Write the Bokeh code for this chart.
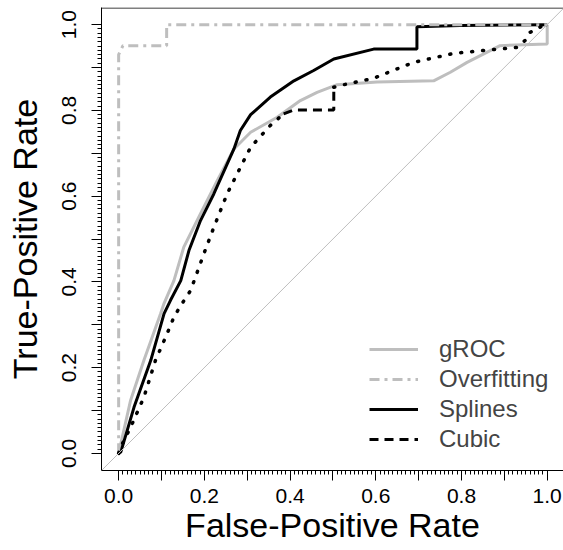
from bokeh.plotting import figure
from bokeh.models import FixedTicker, Legend, LegendItem, Slope, Span
from bokeh.embed import file_html
from bokeh.resources import INLINE

# ---------------- data ----------------
groc_x = [0.0, 0.028, 0.059, 0.098, 0.106, 0.129, 0.152, 0.191, 0.23, 0.269, 0.308, 0.37,
          0.424, 0.463, 0.51, 0.603, 0.735, 0.774, 0.813, 0.89, 1.0, 1.0]
groc_y = [0.0, 0.124, 0.217, 0.326, 0.35, 0.403, 0.481, 0.559, 0.636, 0.71, 0.749, 0.784,
          0.823, 0.842, 0.86, 0.866, 0.869, 0.889, 0.912, 0.951, 0.955, 1.0]

over_x = [0.0, 0.0, 0.01, 0.112, 0.112, 1.0]
over_y = [0.0, 0.93, 0.951, 0.951, 1.0, 1.0]

spl_x = [0.0, 0.005, 0.036, 0.075, 0.106, 0.121, 0.145, 0.164, 0.191, 0.222, 0.269, 0.284,
         0.308, 0.354, 0.409, 0.455, 0.502, 0.595, 0.696, 0.696, 0.797, 1.0]
spl_y = [0.0, 0.003, 0.108, 0.217, 0.326, 0.357, 0.403, 0.473, 0.543, 0.605, 0.71, 0.753,
         0.79, 0.831, 0.869, 0.893, 0.92, 0.943, 0.943, 0.995, 0.998, 1.0]

cub_x = [0.0, 0.005, 0.028, 0.059, 0.086, 0.113, 0.129, 0.145, 0.168, 0.199, 0.222, 0.253,
         0.284, 0.308, 0.354, 0.385, 0.409, 0.502, 0.502, 0.517, 0.595, 0.688, 0.782, 0.844,
         0.929, 0.953, 0.96, 0.976, 0.99, 1.0]
cub_y = [0.0, 0.015, 0.061, 0.131, 0.217, 0.279, 0.318, 0.345, 0.38, 0.466, 0.527, 0.605,
         0.667, 0.714, 0.765, 0.792, 0.801, 0.801, 0.854, 0.858, 0.875, 0.912, 0.933, 0.939,
         0.947, 0.967, 0.982, 0.99, 0.998, 1.0]
cub_step = (15, 18)  # indices of the stepped (dashed-looking) stretch

major_ticks = [0.0, 0.1, 0.2, 0.3, 0.4, 0.5, 0.6, 0.7, 0.8, 0.9, 1.0]
tick_labels = ["0.0", "", "0.2", "", "0.4", "", "0.6", "", "0.8", "", "1.0"]
minor_ticks = [i / 100 for i in range(101)]

series_names = ["gROC", "Overfitting", "Splines", "Cubic"]
x_title = "False-Positive Rate"
y_title = "True-Positive Rate"

FONT = "Liberation Sans"
GRAY = "#bebebe"
X0, X1 = -0.04, 1.038
Y0, Y1 = -0.04, 1.04
HALF_PX = 0.0012  # half a pixel in data units, keeps the top edge inside the frame

# ---------------- figure ----------------
p = figure(width=563, height=550, x_range=(X0, X1), y_range=(Y0, Y1),
           output_backend="svg", toolbar_location=None,
           min_border_left=101, min_border_right=0, min_border_top=7, min_border_bottom=80)
p.grid.visible = False
p.outline_line_color = None
p.background_fill_color = "white"
p.border_fill_color = "white"

for ax in (p.xaxis[0], p.yaxis[0]):
    ax.ticker = FixedTicker(ticks=major_ticks, minor_ticks=minor_ticks)
    ax.major_label_overrides = {t: l for t, l in zip(major_ticks, tick_labels)}
    ax.major_tick_out = 10
    ax.major_tick_in = 0
    ax.minor_tick_out = 4
    ax.minor_tick_in = 0
    ax.axis_line_color = "black"
    ax.major_tick_line_color = "black"
    ax.minor_tick_line_color = "black"
    ax.major_label_text_font = FONT
    ax.major_label_text_font_size = "21px"
    ax.major_label_text_color = "black"
    ax.axis_label_text_font = FONT
    ax.axis_label_text_font_size = "34px"
    ax.axis_label_text_font_style = "normal"
    ax.axis_label_text_color = "black"

p.xaxis.major_label_standoff = 8
p.xaxis.axis_label = x_title
p.xaxis.axis_label_standoff = 0
p.yaxis.major_label_standoff = 15
p.yaxis.major_label_orientation = "parallel"
p.yaxis.axis_label = y_title
p.yaxis.axis_label_standoff = 16

# top edge of the plot box (right edge lies outside the picture)
p.add_layout(Span(location=Y1 - HALF_PX, dimension="width", line_color="black", line_width=1))

p.add_layout(Slope(gradient=1, y_intercept=0, line_color=GRAY, line_width=1))

r_groc = p.line(groc_x, groc_y, line_color=GRAY, line_width=3)
r_spl = p.line(spl_x, spl_y, line_color="black", line_width=3)
r_over = p.line(over_x, over_y, line_color=GRAY, line_width=3, line_dash="10 5 3 5")
a, b = cub_step
r_cub1 = p.line(cub_x[:a + 1], cub_y[:a + 1], line_color="black", line_width=3.5,
                line_dash="1 10", line_cap="round")
r_cub2 = p.line(cub_x[a:b + 1], cub_y[a:b + 1], line_color="black", line_width=3,
                line_dash="9 6")
r_cub3 = p.line(cub_x[b:], cub_y[b:], line_color="black", line_width=3.5,
                line_dash="1 10", line_cap="round")

legend = Legend(items=[LegendItem(label=series_names[0], renderers=[r_groc]),
                       LegendItem(label=series_names[1], renderers=[r_over]),
                       LegendItem(label=series_names[2], renderers=[r_spl]),
                       LegendItem(label=series_names[3], renderers=[r_cub2])],
                location=(268, 16), glyph_width=49, glyph_height=30, label_height=30,
                label_standoff=21, spacing=0, padding=0, margin=0,
                border_line_color=None, background_fill_alpha=0,
                label_text_font=FONT, label_text_font_size="24px")
p.add_layout(legend)

open("out.html", "w").write(file_html(p, INLINE))
